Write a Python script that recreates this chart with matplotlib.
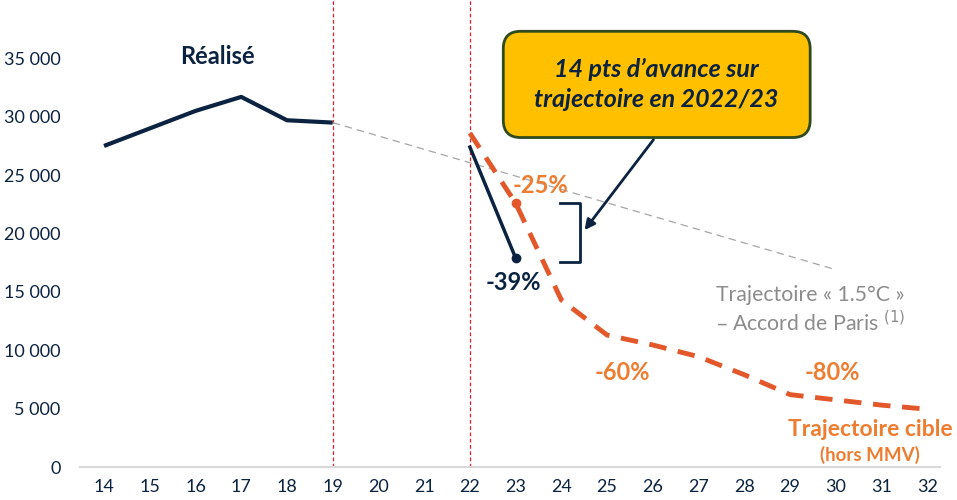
import matplotlib
matplotlib.use("Agg")
import matplotlib.pyplot as plt
from matplotlib.patches import FancyBboxPatch

plt.rcParams['font.family'] = ['Lato', 'DejaVu Sans']

NAVY = '#0B2341'
ORANGE_TXT = '#ED7D31'
ORANGE_LINE = '#E2582B'
GRAY = '#A6A6A6'

# --- Données ---
annees_realise = [14, 15, 16, 17, 18, 19]
valeurs_realise = [27500, 29000, 30500, 31700, 29700, 29500]

annees_recent = [22, 23]
valeurs_recent = [27400, 17900]

annees_cible = [22, 23, 24, 25, 26, 27, 28, 29, 30, 31, 32]
valeurs_cible = [28600, 22600, 14300, 11300, 10450, 9450, 7900, 6200, 5750, 5300, 4950]

annees_paris = [19, 30]
valeurs_paris = [29500, 16900]

annees_ticks = list(range(14, 33))
valeurs_ticks = list(range(0, 35001, 5000))

fig = plt.figure(figsize=(9.57, 5.0), dpi=100)
ax = fig.add_axes([0.0836, 0.066, 0.8987, 0.934])

ax.set_xlim(13.475, 32.28)
ax.set_ylim(0, 40000)

# lignes verticales
for x in [19, 22]:
    ax.axvline(x, color='#E8202A', lw=0.9, ls=(0, (3, 2)), zorder=1)

# trajectoire Paris
ax.plot(annees_paris, valeurs_paris, color=GRAY, lw=0.9, ls=(0, (6, 4)), zorder=2)

# réalisé
ax.plot(annees_realise, valeurs_realise, color=NAVY, lw=3, solid_capstyle='butt', zorder=4)
ax.plot(annees_recent, valeurs_recent, color=NAVY, lw=2.5, zorder=4)
ax.plot(annees_recent[-1], valeurs_recent[-1], 'o', color=NAVY, ms=6, zorder=5)

# trajectoire cible
ax.plot(annees_cible, valeurs_cible, color=ORANGE_LINE, lw=3.5, ls=(0, (3.6, 2.4)), zorder=3)
ax.plot(annees_cible[1], valeurs_cible[1], 'o', color=ORANGE_LINE, ms=6, zorder=5)

# axes
for s in ['top', 'right', 'left']:
    ax.spines[s].set_visible(False)
ax.spines['bottom'].set_color('#D9D9D9')
ax.spines['bottom'].set_linewidth(1.5)
ax.set_xticks(annees_ticks)
ax.set_xticklabels([str(a) for a in annees_ticks])
ax.set_yticks(valeurs_ticks)
ax.set_yticklabels([f"{v:,}".replace(",", " ") for v in valeurs_ticks])
ax.tick_params(axis='both', length=0, colors=NAVY, labelsize=13)
ax.tick_params(axis='x', pad=9)
ax.tick_params(axis='y', pad=14)

# textes
ax.text(16.47, 35200, "Réalisé", color=NAVY, fontsize=17, fontweight='bold', ha='center', va='center')
ax.text(23.55, 24100, "-25%", color=ORANGE_TXT, fontsize=17, fontweight='bold', ha='center', va='center')
ax.text(22.95, 15800, "-39%", color=NAVY, fontsize=17, fontweight='bold', ha='center', va='center')
ax.text(25.33, 8060, "-60%", color=ORANGE_TXT, fontsize=17, fontweight='bold', ha='center', va='center')
ax.text(29.92, 8060, "-80%", color=ORANGE_TXT, fontsize=17, fontweight='bold', ha='center', va='center')
ax.text(30.75, 3200, "Trajectoire cible", color=ORANGE_TXT, fontsize=16.5, fontweight='bold', ha='center', va='center')
ax.text(30.75, 1050, "(hors MMV)", color=ORANGE_TXT, fontsize=13.5, fontweight='bold', ha='center', va='center')
ax.text(27.39, 14700, "Trajectoire « 1.5°C »", color='#8C8C8C', fontsize=15.3, ha='left', va='center')
ax.text(27.39, 12350, "– Accord de Paris $^{(1)}$", color='#8C8C8C', fontsize=15.3, ha='left', va='center')

# encadré jaune
aspect = (35000 / 408) / (1 / 45.72)
box = FancyBboxPatch((22.73, 28220), 29.44 - 22.73, 37320 - 28220,
                     boxstyle="round,pad=0,rounding_size=0.38", mutation_aspect=aspect,
                     facecolor='#FFC000', edgecolor='#2E4A1E', lw=2, zorder=6)
ax.add_patch(box)
ax.text(26.08, 32770, "14 pts d’avance sur\ntrajectoire en 2022/23", color=NAVY, fontsize=18,
        fontweight='bold', fontstyle='italic', ha='center', va='center', linespacing=1.35, zorder=7)

# flèche
ax.annotate("", xy=(24.47, 20100), xytext=(26.05, 28220),
            arrowprops=dict(arrowstyle='-|>', color=NAVY, lw=2, mutation_scale=15), zorder=6)

# crochet
ax.plot([23.97, 24.41, 24.41, 23.97], [22650, 22650, 17600, 17600], color=NAVY, lw=2, zorder=5)

fig.savefig("out.png", dpi=100)
